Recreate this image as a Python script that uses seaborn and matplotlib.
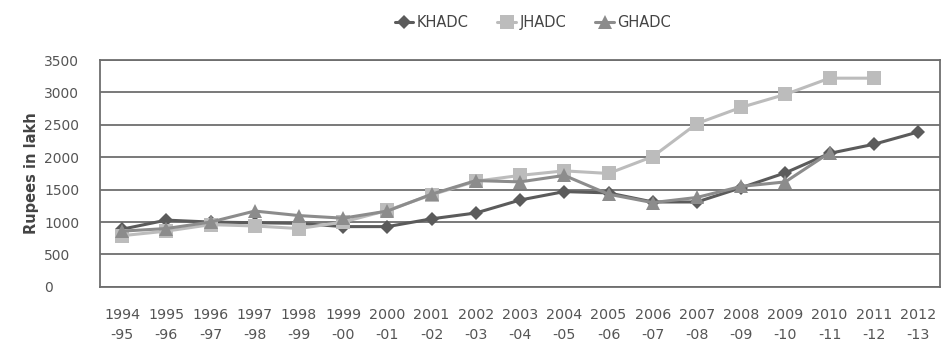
import numpy as np
import pandas as pd
import matplotlib.pyplot as plt
import seaborn as sns

# dane
lata = ['1994\n-95', '1995\n-96', '1996\n-97', '1997\n-98', '1998\n-99', '1999\n-00',
        '2000\n-01', '2001\n-02', '2002\n-03', '2003\n-04', '2004\n-05', '2005\n-06',
        '2006\n-07', '2007\n-08', '2008\n-09', '2009\n-10', '2010\n-11', '2011\n-12',
        '2012\n-13']
khadc = [890, 1030, 1000, 990, 980, 930, 930, 1050, 1140, 1340, 1470, 1450,
         1310, 1310, 1530, 1760, 2060, 2200, 2390]
jhadc = [790, 860, 960, 940, 900, 1000, 1180, 1420, 1630, 1720, 1790, 1750,
         2010, 2520, 2770, 2970, 3220, 3220, np.nan]
ghadc = [860, 900, 1000, 1170, 1100, 1060, 1170, 1430, 1640, 1620, 1720, 1430,
         1300, 1380, 1550, 1620, 2070, np.nan, np.nan]

serie = ['KHADC', 'JHADC', 'GHADC']
kolory = {'KHADC': '#5b5b5b', 'JHADC': '#bcbcbc', 'GHADC': '#8c8c8c'}
markery = {'KHADC': 'D', 'JHADC': 's', 'GHADC': '^'}
rozmiary = {'KHADC': 7.5, 'JHADC': 10, 'GHADC': 9.5}

dane = pd.DataFrame({'rok': list(range(len(lata))) * 3,
                     'seria': np.repeat(serie, len(lata)),
                     'wartosc': khadc + jhadc + ghadc})

sns.set_style('white')
plt.rcParams['font.family'] = ['DejaVu Sans']

fig, ax = plt.subplots(figsize=(9.43, 3.49), dpi=100)
fig.subplots_adjust(left=0.106, right=0.997, top=0.828, bottom=0.178)

for s in serie:
    d = dane[dane['seria'] == s]
    sns.lineplot(data=d, x='rok', y='wartosc', ax=ax, color=kolory[s],
                 marker=markery[s], markersize=rozmiary[s], markeredgewidth=0,
                 linewidth=2.2, label=s)

ax.set_xlim(-0.5, len(lata) - 0.5)
ax.set_ylim(0, 3500)
ax.set_yticks(range(0, 3501, 500))
ax.yaxis.grid(True, color='#6e6e6e', linewidth=1.3)
ax.set_axisbelow(True)
ax.set_xticks(range(len(lata)))
ax.set_xticklabels(lata, fontsize=10.3, color='#555555', linespacing=1.6)
ax.tick_params(axis='y', labelsize=10, labelcolor='#555555', pad=40, length=0)
for t in ax.get_yticklabels():
    t.set_horizontalalignment('left')
ax.tick_params(axis='x', pad=15, length=0)
for sp in ax.spines.values():
    sp.set_color('#6e6e6e')
    sp.set_linewidth(1.3)
ax.set_xlabel('')
ax.set_ylabel('Rupees in lakh', fontsize=10.5, fontweight='bold', color='#444444', labelpad=4)

ax.legend(loc='center', bbox_to_anchor=(0.515, 1.165), ncol=3, frameon=False,
          fontsize=10.5, handlelength=1.3, handletextpad=0.2, columnspacing=2.0,
          labelcolor='#444444')

plt.savefig('out.png', dpi=100)
